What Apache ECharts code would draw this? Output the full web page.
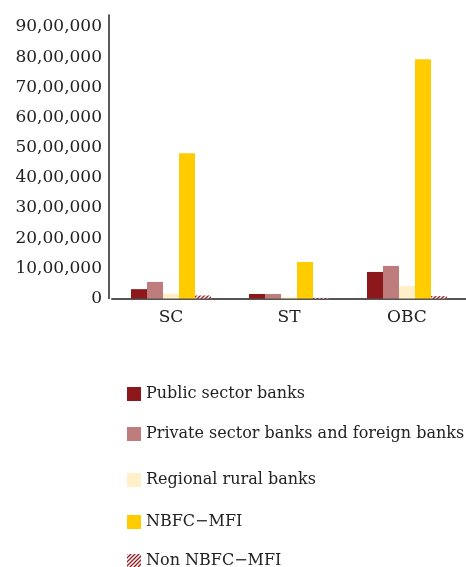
<!DOCTYPE html>
<html>
<head>
<meta charset="utf-8">
<script src="https://cdn.jsdelivr.net/npm/echarts@6/dist/echarts.min.js"></script>
<style>
  html, body { margin: 0; padding: 0; background: #fff; }
  #chart { width: 466px; height: 567px; }
</style>
</head>
<body>
<div id="chart"></div>
<script>
// Social groups on the category axis
const categories = ['SC', 'ST', 'OBC'];

// Lender types and their values per group
const seriesNames = [
  'Public sector banks',
  'Private sector banks and foreign banks',
  'Regional rural banks',
  'NBFC\u2212MFI',
  'Non NBFC\u2212MFI'
];
const publicSector = [310000, 150000, 880000];
const privateForeign = [550000, 150000, 1080000];
const regionalRural = [160000, 50000, 410000];
const nbfcMfi = [4820000, 1210000, 7930000];
const nonNbfcMfi = [100000, 20000, 80000];

const yTicks = [0, 1000000, 2000000, 3000000, 4000000, 5000000, 6000000, 7000000, 8000000, 9000000];

const FONT = 'DejaVu Serif';
const TEXT = '#222';

// Indian digit grouping: 90,00,000
function indianFormat(v) {
  const s = String(Math.round(v));
  if (s.length <= 3) return s;
  const last3 = s.slice(-3);
  let rest = s.slice(0, -3);
  const parts = [];
  while (rest.length > 2) {
    parts.unshift(rest.slice(-2));
    rest = rest.slice(0, -2);
  }
  if (rest) parts.unshift(rest);
  return parts.join(',') + ',' + last3;
}

// Diagonal hatch fill for the non-NBFC series
function hatch() {
  const c = document.createElement('canvas');
  c.width = 4; c.height = 4;
  const g = c.getContext('2d');
  g.fillStyle = '#ffffff';
  g.fillRect(0, 0, 4, 4);
  g.strokeStyle = '#9b1c20';
  g.lineWidth = 1.3;
  g.beginPath();
  g.moveTo(-1, 5); g.lineTo(5, -1);
  g.moveTo(-1, 1); g.lineTo(1, -1);
  g.moveTo(3, 5); g.lineTo(5, 3);
  g.stroke();
  return { image: c, repeat: 'repeat' };
}

const colors = ['#8c181c', '#bf7c7c', '#fff0c9', '#ffcc00', hatch()];
const values = [publicSector, privateForeign, regionalRural, nbfcMfi, nonNbfcMfi];
const legendTops = [386, 426, 472, 514, 553];

const chart = echarts.init(document.getElementById('chart'), null, { renderer: 'canvas' });

chart.setOption({
  animation: false,
  textStyle: { fontFamily: FONT },
  grid: { left: 112, width: 372, top: 15, bottom: 268.5, containLabel: false },
  xAxis: {
    type: 'category',
    data: categories,
    axisLine: { lineStyle: { color: '#555', width: 2 } },
    axisTick: { show: false },
    axisLabel: { color: TEXT, fontFamily: FONT, fontSize: 17, margin: 11 }
  },
  yAxis: {
    type: 'value',
    min: 0,
    max: 9400000,
    interval: 1000000,
    offset: 3,
    axisLine: { show: true, lineStyle: { color: '#222', width: 1.5 } },
    axisTick: { show: false },
    splitLine: { show: false },
    axisLabel: {
      color: TEXT, fontFamily: FONT, fontSize: 17, margin: 7,
      showMaxLabel: false,
      formatter: v => (yTicks.indexOf(v) >= 0 ? indianFormat(v) : '')
    }
  },
  legend: seriesNames.map((name, i) => ({
    data: [name],
    left: 127,
    top: legendTops[i],
    padding: 0,
    itemWidth: 14,
    itemHeight: 14,
    itemGap: 5,
    icon: 'rect',
    textStyle: { color: TEXT, fontFamily: FONT, fontSize: 16 }
  })),
  series: seriesNames.map((name, i) => ({
    name: name,
    type: 'bar',
    data: values[i],
    barWidth: 16,
    barGap: '0%',
    itemStyle: { color: colors[i] }
  }))
});
</script>
</body>
</html>
